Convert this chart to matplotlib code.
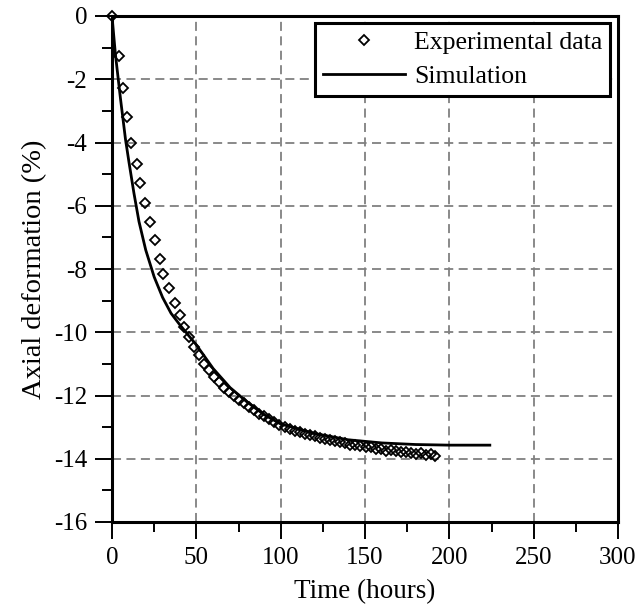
import numpy as np
import matplotlib
matplotlib.use("Agg")
import matplotlib.pyplot as plt
from matplotlib.ticker import MultipleLocator

plt.rcParams['font.family'] = ['Liberation Serif', 'DejaVu Serif']
plt.rcParams['axes.unicode_minus'] = False

# experimental points
exp_time = [0, 4.2, 6.4, 8.7, 11.1, 14.7, 16.7, 19.6, 22.6, 25.2, 28.2, 30.5,
            33.9, 37.5, 40.1, 42.4, 45.4, 48.4, 51.4, 54.3, 57.3, 60.3, 63.3,
            66.3, 69.3, 72.3, 75.3, 78.3, 81.3, 84.3, 87.3, 90.3, 93.3, 96.3,
            99.3, 102.3, 105.3, 108.3, 111.3, 114.3, 117.3, 120.3, 123.3,
            126.3, 129.3, 132.3, 135.3, 138.3, 141.3, 144.3, 147.3, 150.3,
            153.3, 156.3, 159.3, 162.3, 165.3, 168.3, 171.3, 174.3, 177.3,
            180.3, 183.3, 186.3, 189.3, 191.5]
exp_def = [0, -1.27, -2.29, -3.19, -4.0, -4.68, -5.29, -5.9, -6.52, -7.09,
           -7.67, -8.17, -8.6, -9.07, -9.46, -9.83, -10.15, -10.47, -10.73,
           -10.99, -11.2, -11.41, -11.57, -11.77, -11.9, -12.02, -12.13,
           -12.25, -12.37, -12.47, -12.57, -12.66, -12.75, -12.83, -12.92,
           -12.99, -13.05, -13.11, -13.16, -13.21, -13.25, -13.29, -13.33,
           -13.37, -13.41, -13.44, -13.48, -13.51, -13.55, -13.56, -13.61,
           -13.63, -13.62, -13.68, -13.7, -13.74, -13.71, -13.77, -13.79,
           -13.78, -13.83, -13.84, -13.82, -13.87, -13.86, -13.9]

# simulation curve
sim_time = [0, 2, 5, 8, 10, 13, 16, 20, 25, 30, 35, 40, 50, 60, 70, 80, 90,
            100, 120, 140, 160, 180, 200, 224]
sim_def = [0, -1.2, -2.6, -3.9, -4.6, -5.6, -6.5, -7.4, -8.25, -8.9, -9.4,
           -9.75, -10.4, -11.15, -11.75, -12.2, -12.6, -12.9, -13.2, -13.4,
           -13.5, -13.55, -13.57, -13.57]

fig = plt.figure(figsize=(6.39, 6.08), dpi=100)
ax = fig.add_axes([112 / 639, 86 / 608, 506 / 639, 506 / 608])

ax.plot(exp_time, exp_def, linestyle='none', marker='D', markersize=5.5,
        markerfacecolor='none', markeredgecolor='black', markeredgewidth=1.3,
        label='Experimental data', clip_on=False, zorder=3)
ax.plot(sim_time, sim_def, color='black', lw=2, label='Simulation', zorder=4)

ax.set_xlim(0, 300)
ax.set_ylim(-16, 0)
ax.xaxis.set_major_locator(MultipleLocator(50))
ax.xaxis.set_minor_locator(MultipleLocator(25))
ax.yaxis.set_major_locator(MultipleLocator(2))
ax.yaxis.set_minor_locator(MultipleLocator(1))

ax.grid(True, which='major', color='#808080', linestyle=(0, (5, 3)), lw=1.3)
ax.set_axisbelow(True)

for s in ax.spines.values():
    s.set_linewidth(2.2)
ax.tick_params(which='major', direction='out', length=12, width=1.4,
               labelsize=18, pad=6)
ax.tick_params(which='minor', direction='out', length=7, width=1.4)

ax.set_xlabel('Time (hours)', fontsize=19.5, labelpad=7)
ax.set_ylabel('Axial deformation (%)', fontsize=20.5, labelpad=5)

leg = ax.legend(loc='upper right', bbox_to_anchor=(0.984, 0.986),
                borderaxespad=0, fontsize=18.5, frameon=True, fancybox=False,
                handlelength=3.2, handletextpad=0.35, borderpad=0.3,
                labelspacing=0.45)
leg.get_frame().set_edgecolor('black')
leg.get_frame().set_linewidth(2.2)
leg.get_frame().set_alpha(1)

fig.savefig('out.png', dpi=100)
